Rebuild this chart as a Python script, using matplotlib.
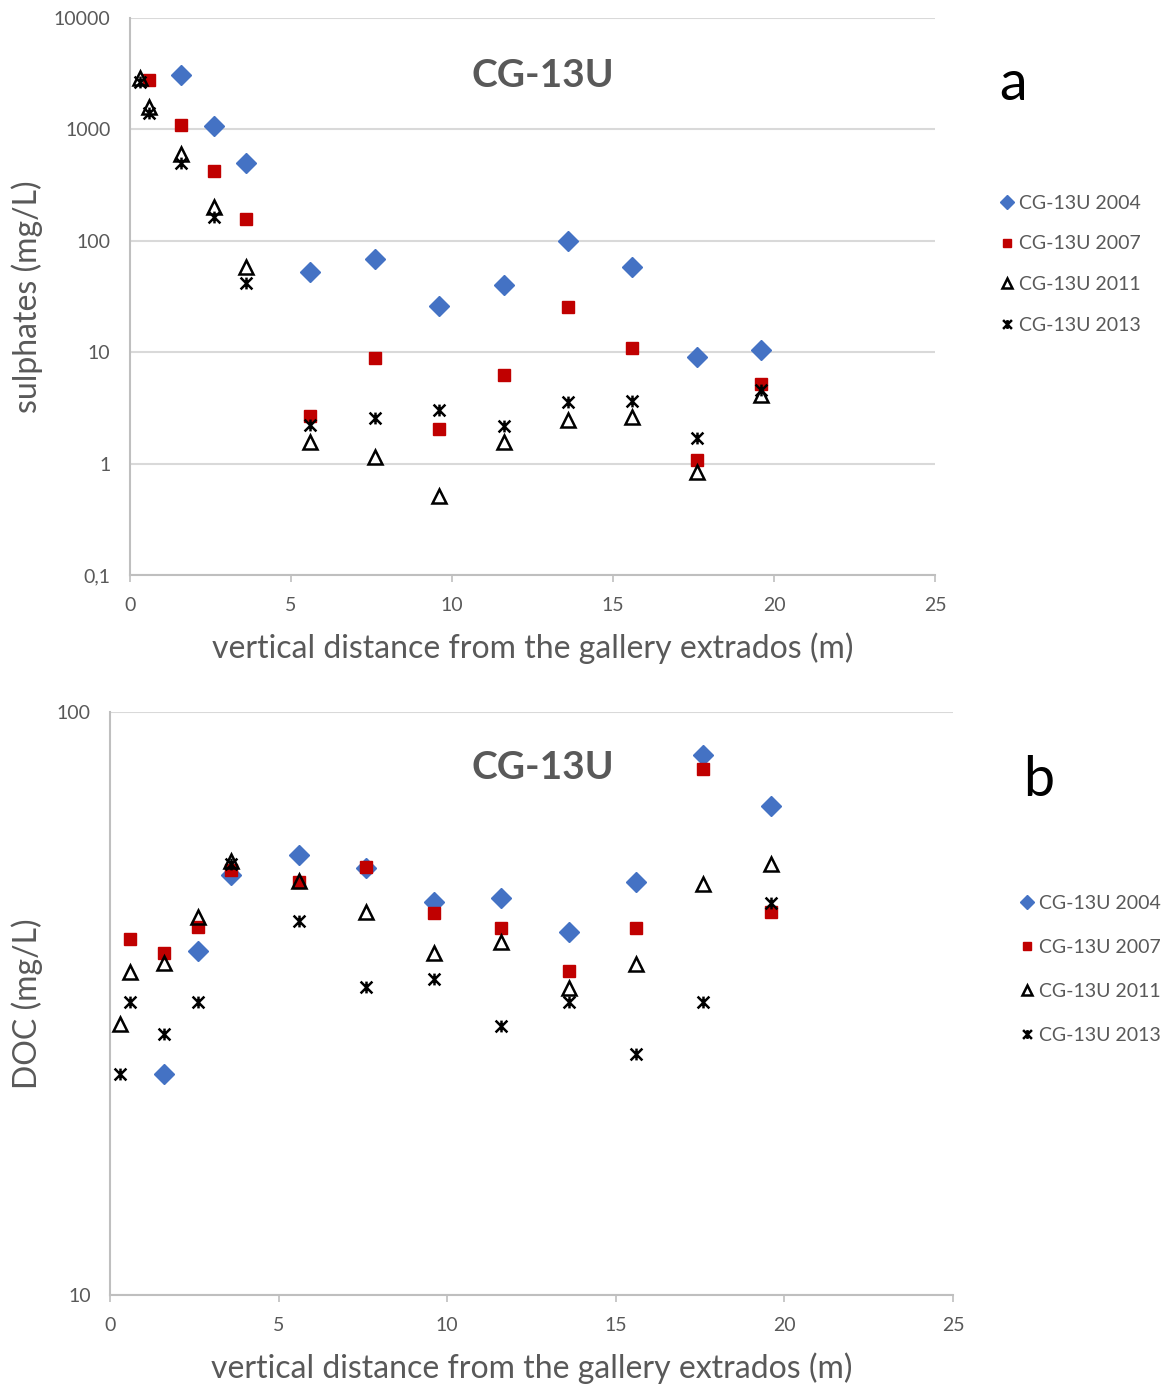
import matplotlib
matplotlib.use('Agg')
import matplotlib.pyplot as plt
from matplotlib.path import Path
from matplotlib.ticker import FixedLocator, FuncFormatter, NullLocator

plt.rcParams['font.family'] = ['Lato', 'DejaVu Sans']

# sampling depths (m) of each campaign, panel a (sulphates)
x_sulph_2004 = [1.6, 2.6, 3.6, 5.6, 7.6, 9.6, 11.6, 13.6, 15.6, 17.6, 19.6]
x_sulph_2007 = [0.6, 1.6, 2.6, 3.6, 5.6, 7.6, 9.6, 11.6, 13.6, 15.6, 17.6, 19.6]
x_sulph_2011 = [0.3, 0.6, 1.6, 2.6, 3.6, 5.6, 7.6, 9.6, 11.6, 13.6, 15.6, 17.6, 19.6]
x_sulph_2013 = [0.3, 0.6, 1.6, 2.6, 3.6, 5.6, 7.6, 9.6, 11.6, 13.6, 15.6, 17.6, 19.6]

sulph_2004 = [3080, 1070, 500, 52, 69, 26, 40, 100, 58, 9.1, 10.5]
sulph_2007 = [2780, 1100, 425, 157, 2.67, 8.9, 2.05, 6.2, 25.5, 10.9, 1.08, 5.2]
sulph_2011 = [2890, 1590, 600, 200, 58, 1.56, 1.15, 0.51, 1.56, 2.46, 2.62, 0.84, 4.13]
sulph_2013 = [2660, 1400, 500, 164, 42, 2.22, 2.57, 3.03, 2.18, 3.57, 3.65, 1.70, 4.58]

# panel b (DOC)
x_doc_2004 = [1.6, 2.6, 3.6, 5.6, 7.6, 9.6, 11.6, 13.6, 15.6, 17.6, 19.6]
x_doc_2007 = [0.6, 1.6, 2.6, 3.6, 5.6, 7.6, 9.6, 11.6, 13.6, 15.6, 17.6, 19.6]
x_doc_2011 = [0.3, 0.6, 1.6, 2.6, 3.6, 5.6, 7.6, 9.6, 11.6, 13.6, 15.6, 17.6, 19.6]
x_doc_2013 = [0.3, 0.6, 1.6, 2.6, 3.6, 5.6, 7.6, 9.6, 11.6, 13.6, 15.6, 17.6, 19.6]

doc_2004 = [23.9, 38.9, 52.6, 56.8, 54.0, 47.2, 48.0, 41.9, 51.1, 84.4, 69.0]
doc_2007 = [40.8, 38.6, 42.8, 53.6, 51.1, 54.2, 45.2, 42.6, 35.9, 42.6, 79.9, 45.4]
doc_2011 = [29.2, 35.8, 37.1, 44.5, 55.6, 51.3, 45.4, 38.6, 40.3, 33.6, 37.0, 50.7, 54.9]
doc_2013 = [23.9, 31.8, 28.0, 31.8, 54.8, 43.8, 33.8, 34.8, 28.9, 31.8, 25.9, 31.8, 47.0]

labels = ['CG-13U 2004', 'CG-13U 2007', 'CG-13U 2011', 'CG-13U 2013']

# Excel-like "star" marker: an x crossed by a vertical bar
star = Path([(-1, -1), (1, 1), (-1, 1), (1, -1), (0, -1), (0, 1)],
            [Path.MOVETO, Path.LINETO, Path.MOVETO, Path.LINETO,
             Path.MOVETO, Path.LINETO])

grey_txt = '#595959'
grid_col = '#d9d9d9'
axis_col = '#bfbfbf'


def draw_series(ax, xs, ys):
  ax.plot(xs[0], ys[0], ls='none', marker='D', ms=10, color='#4472c4',
          mec='#4472c4', label=labels[0], zorder=3)
  ax.plot(xs[1], ys[1], ls='none', marker='s', ms=8.5, color='#c00000',
          mec='#c00000', label=labels[1], zorder=3)
  ax.plot(xs[2], ys[2], ls='none', marker='^', ms=10, mfc='none', mec='black',
          mew=1.8, label=labels[2], zorder=4)
  ax.plot(xs[3], ys[3], ls='none', marker=star, ms=8.5, mfc='none',
          mec='black', mew=1.8, label=labels[3], zorder=4)


def style_axes(ax, yticks, ylabels):
  ax.set_xlim(0, 25)
  ax.set_yscale('log')
  ax.set_ylim(yticks[0], yticks[-1])
  ax.yaxis.set_major_locator(FixedLocator(yticks))
  ax.yaxis.set_major_formatter(FuncFormatter(
    lambda v, p: ylabels[yticks.index(v)] if v in yticks else ''))
  ax.yaxis.set_minor_locator(NullLocator())
  ax.set_xticks(range(0, 26, 5))
  ax.grid(axis='y', color=grid_col, lw=1.5)
  ax.set_axisbelow(True)
  for s in ['top', 'right']:
    ax.spines[s].set_visible(False)
  for s in ['left', 'bottom']:
    ax.spines[s].set_color(axis_col)
    ax.spines[s].set_linewidth(1.5)
  ax.tick_params(axis='y', length=0, pad=14, labelsize=14, labelcolor=grey_txt)
  ax.tick_params(axis='x', length=5, width=1.2, color=axis_col, pad=11,
                 labelsize=14, labelcolor=grey_txt)
  ax.set_xlabel('vertical distance from the gallery extrados (m)',
                fontsize=23, color=grey_txt, labelpad=13)


def add_legend(ax, anchor, spacing):
  leg = ax.legend(loc='upper left', bbox_to_anchor=anchor, frameon=False,
                  fontsize=14, labelcolor=grey_txt, handletextpad=0.1,
                  handlelength=1.0, labelspacing=spacing, borderaxespad=0,
                  markerscale=0.75)
  return leg


fig = plt.figure(figsize=(11.72, 13.88), dpi=100)

# panel a
ax1 = fig.add_axes([0.1109, 0.5857, 0.6869, 0.4013])
draw_series(ax1, [x_sulph_2004, x_sulph_2007, x_sulph_2011, x_sulph_2013],
            [sulph_2004, sulph_2007, sulph_2011, sulph_2013])
style_axes(ax1, [0.1, 1, 10, 100, 1000, 10000],
           ['0,1', '1', '10', '100', '1000', '10000'])
ax1.set_ylabel('sulphates (mg/L)', fontsize=23, color=grey_txt, labelpad=8)
ax1.text(0.513, 0.897, 'CG-13U', transform=ax1.transAxes, ha='center',
         va='center', fontsize=28, fontweight='bold', color=grey_txt)
fig.text(0.864, 0.939, 'a', fontsize=40, ha='center', va='center')
add_legend(ax1, (1.0675, 0.697), 1.22)

# panel b
ax2 = fig.add_axes([0.0939, 0.067, 0.7192, 0.42])
draw_series(ax2, [x_doc_2004, x_doc_2007, x_doc_2011, x_doc_2013],
            [doc_2004, doc_2007, doc_2011, doc_2013])
style_axes(ax2, [10, 100], ['10', '100'])
ax2.set_ylabel('DOC (mg/L)', fontsize=23, color=grey_txt, labelpad=10)
ax2.text(0.513, 0.905, 'CG-13U', transform=ax2.transAxes, ha='center',
         va='center', fontsize=28, fontweight='bold', color=grey_txt)
fig.text(0.886, 0.438, 'b', fontsize=40, ha='center', va='center')
add_legend(ax2, (1.0676, 0.7), 1.39)

fig.savefig('out.png', dpi=100)
